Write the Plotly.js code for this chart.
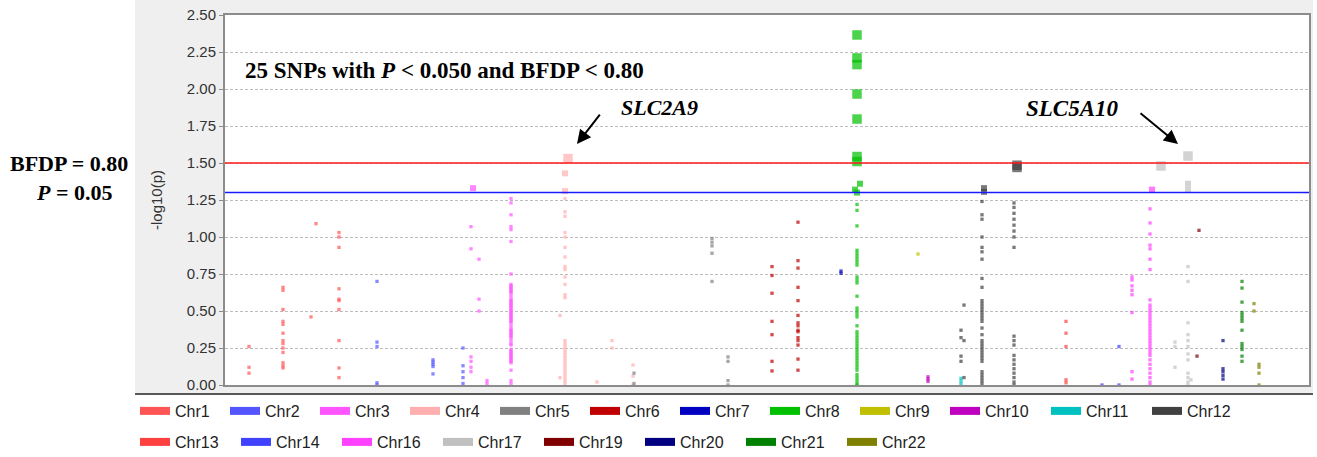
<!DOCTYPE html>
<html>
<head>
<meta charset="utf-8">
<script src="https://cdn.plot.ly/plotly-3.0.1.min.js"></script>
<style>html,body{margin:0;padding:0;background:#fff;}</style>
</head>
<body>
<div id="chart" style="width:1317px;height:457px;"></div>
<script>
// ---------- data ----------
const chromosomes = ['Chr1','Chr2','Chr3','Chr4','Chr5','Chr6','Chr7','Chr8','Chr9','Chr10','Chr11','Chr12',
                     'Chr13','Chr14','Chr16','Chr17','Chr19','Chr20','Chr21','Chr22'];
const chrColors = ['#ff5555','#5555ff','#ff55ff','#ffafaf','#808080','#c00000','#0000c0','#00c000','#c0c000','#c000c0','#00c0c0','#404040',
                   '#ff4040','#4040ff','#ff40ff','#c0c0c0','#800000','#000080','#008000','#808000'];

// genome position index of each SNP column, and -log10(p) values of the SNPs in that column
const chr1Pos = [24, 58, 86, 91, 114];
const chr1Val = [[0.26,0.12,0.08],
  [0.66,0.64,0.51,0.43,0.41,0.35,0.30,0.28,0.25,0.22,0.15,0.13,0.115],
  [0.46],[1.09],
  [1.03,1.00,0.93,0.65,0.58,0.57,0.51,0.30,0.115,0.05]];
const chr2Pos = [152, 208, 238];
const chr2Val = [[0.70,0.29,0.26,0.015,0.0],[0.17,0.155,0.14,0.125,0.075],[0.25,0.13,0.09,0.05,0.01]];
const chr3Pos = [246, 248, 254, 262, 286];
const chr3Val = [[1.07,0.92,0.19,0.16,0.12,0.09],[1.33],[0.85,0.58,0.50],[0.03,0.01],
  [1.26,1.23,1.15,1.07,1.05,0.97,0.75,0.68,0.67,0.66,0.65,0.64,0.63,0.62,0.60,0.58,0.57,0.56,0.55,0.54,0.53,0.52,
   0.51,0.50,0.49,0.48,0.47,0.46,0.45,0.44,0.43,0.42,0.40,0.38,0.37,0.36,0.35,0.34,0.33,0.32,0.30,0.28,0.27,
   0.24,0.23,0.22,0.21,0.20,0.19,0.18,0.17,0.16,0.15,0.10,0.03,0.01]];
const chr4Pos = [335, 340, 343, 372, 387, 408];
const chr4Val = [[0.47,0.05],
  [1.43,1.31,1.26,1.17,1.14,1.03,1.00,0.93,0.865,0.80,0.78,0.73,0.68,0.61,0.59,0.30,0.28,0.26,0.24,0.22,0.20,
   0.18,0.16,0.14,0.12,0.10,0.08,0.06,0.04,0.02,0.0],
  [1.53],[0.02],[0.30,0.25],[0.135,0.06,0.0]];
const chr5Pos = [409, 487, 503];
const chr5Val = [[0.08,0.01],[0.99,0.965,0.94,0.89,0.70],[0.19,0.16,0.03,0.0]];
const chr6Pos = [547, 573];
const chr6Val = [[0.80,0.74,0.62,0.43,0.34,0.16,0.095],
  [1.10,0.84,0.79,0.66,0.57,0.47,0.42,0.40,0.37,0.36,0.32,0.30,0.27,0.175,0.10]];
const chr7Pos = [616];
const chr7Val = [[0.77,0.755]];
const chr8Pos = [630, 632, 635];
const chr8Val = [[1.32],
  [2.365,2.21,2.165,1.966,1.797,1.544,1.51,1.30,1.22,1.18,1.075,0.91,0.89,0.87,0.85,0.83,0.81,0.73,0.71,0.69,0.60,
   0.52,0.50,0.48,0.46,0.40,0.36,0.34,0.32,0.30,0.28,0.26,0.24,0.22,0.20,0.18,0.16,0.14,0.12,0.10,0.07,0.05,0.03,0.01,0.0],
  [1.36]];
const chr9Pos = [693];
const chr9Val = [[0.885]];
const chr10Pos = [703];
const chr10Val = [[0.055,0.04,0.025]];
const chr11Pos = [736];
const chr11Val = [[0.045,0.025,0.005]];
const chr12Pos = [736, 739, 757, 759, 789, 792];
const chr12Val = [[0.37,0.32,0.195,0.16],[0.54,0.30,0.05],
  [1.24,1.15,1.12,1.00,0.93,0.90,0.85,0.72,0.66,0.57,0.55,0.53,0.51,0.49,0.47,0.45,0.43,0.385,0.34,0.30,0.28,0.26,
   0.24,0.22,0.20,0.18,0.16,0.09,0.07,0.05,0.03,0.01],
  [1.33,1.305],
  [1.23,1.20,1.16,1.12,1.08,1.04,1.00,0.93,0.33,0.30,0.27,0.20,0.17,0.14,0.11,0.08,0.05,0.02,0.0],
  [1.485,1.47]];
const chr13Pos = [841];
const chr13Val = [[0.43,0.35,0.26,0.035,0.015]];
const chr14Pos = [877, 894];
const chr14Val = [[0.0],[0.26,0.0]];
const chr16Pos = [907, 925, 927];
const chr16Val = [[0.73,0.71,0.67,0.64,0.61,0.49,0.09,0.04],
  [1.19,1.095,1.02,0.945,0.92,0.85,0.78,0.575,0.54,0.52,0.50,0.48,0.46,0.44,0.42,0.40,0.38,0.36,0.34,0.32,0.30,
   0.28,0.26,0.24,0.22,0.20,0.17,0.14,0.11,0.08,0.05,0.02,0.0],
  [1.32]];
const chr17Pos = [936, 950, 963, 966];
const chr17Val = [[1.48],[0.29,0.26,0.12],
  [1.547,1.36,1.32,0.80,0.70,0.42,0.34,0.30,0.26,0.21,0.17,0.08,0.05,0.02,0.0],[0.035]];
const chr19Pos = [972, 974];
const chr19Val = [[0.195],[1.045]];
const chr20Pos = [998];
const chr20Val = [[0.30,0.11,0.09,0.065,0.04]];
const chr21Pos = [1017];
const chr21Val = [[0.70,0.655,0.56,0.49,0.47,0.45,0.43,0.37,0.28,0.26,0.24,0.195,0.16]];
const chr22Pos = [1029, 1034];
const chr22Val = [[0.55,0.50],[0.14,0.12,0.08,0.0]];

const yTickValues = [0,0.25,0.5,0.75,1,1.25,1.5,1.75,2,2.25,2.5];
const pThreshold = -Math.log10(0.05);   // P = 0.05
const bfdpThreshold = 1.50;              // BFDP = 0.80 line
const genomeLength = 1084;

const posSeries = [chr1Pos,chr2Pos,chr3Pos,chr4Pos,chr5Pos,chr6Pos,chr7Pos,chr8Pos,chr9Pos,chr10Pos,chr11Pos,chr12Pos,
                   chr13Pos,chr14Pos,chr16Pos,chr17Pos,chr19Pos,chr20Pos,chr21Pos,chr22Pos];
const valSeries = [chr1Val,chr2Val,chr3Val,chr4Val,chr5Val,chr6Val,chr7Val,chr8Val,chr9Val,chr10Val,chr11Val,chr12Val,
                   chr13Val,chr14Val,chr16Val,chr17Val,chr19Val,chr20Val,chr21Val,chr22Val];

// ---------- traces ----------
const traces = [];
chromosomes.forEach((name, i) => {
  const xs = [], ys = [];
  posSeries[i].forEach((p, j) => valSeries[i][j].forEach(v => { xs.push(p); ys.push(v); }));
  const sizes = ys.map(v => v >= 1.45 ? 9.5 : (v >= 1.30 ? 6 : 3.3));
  traces.push({
    type: 'scatter', mode: 'markers', x: xs, y: ys, name: name, showlegend: false, cliponaxis: false,
    marker: {symbol: 'square', size: sizes, color: chrColors[i], line: {width: 0}},
    hovertemplate: name + '<br>-log10(p) = %{y:.2f}<extra></extra>'
  });
});
chromosomes.forEach((name, i) => {
  traces.push({
    type: 'scatter', mode: 'lines', x: [null], y: [null], name: name,
    legend: i < 12 ? 'legend' : 'legend2',
    legendwidth: name.length > 4 ? 56 : 45,
    line: {color: chrColors[i], width: 8}, hoverinfo: 'skip'
  });
});

// ---------- layout helpers (pixel -> paper) ----------
const L = 225, T = 15, W = 1084, H = 370;
const px = v => (v - L) / W;
const py = v => (T + H - v) / H;

const serif = 'Liberation Serif, Times New Roman, serif';
const sans = 'Liberation Sans, Arial, sans-serif';
const legendCommon = {orientation: 'h', xref: 'paper', yref: 'paper', x: px(135), xanchor: 'left', yanchor: 'middle',
  font: {family: sans, size: 16, color: '#222'}, bgcolor: 'rgba(0,0,0,0)', itemwidth: 30, borderwidth: 0};

const layout = {
  width: 1317, height: 457,
  margin: {l: L, r: 1317 - L - W, t: T, b: 457 - T - H, autoexpand: false},
  paper_bgcolor: '#ffffff', plot_bgcolor: '#ffffff',
  showlegend: true,
  legend: Object.assign({}, legendCommon, {y: py(411)}),
  legend2: Object.assign({}, legendCommon, {y: py(442)}),
  xaxis: {range: [0, genomeLength], showticklabels: false, ticks: '', showgrid: false, zeroline: false,
          showline: true, mirror: true, linecolor: '#8c8c8c', linewidth: 2, fixedrange: true},
  yaxis: {range: [0, 2.5], tickvals: yTickValues, tickformat: '.2f', ticks: 'outside', ticklen: 4, tickcolor: '#8c8c8c',
          showgrid: true, gridcolor: '#bdbdbd', griddash: '3px,2px', gridwidth: 1, zeroline: false,
          showline: true, mirror: true, linecolor: '#8c8c8c', linewidth: 2, automargin: false,
          tickfont: {family: sans, size: 15, color: '#333'},
          title: {text: '-log10(p)', standoff: 21, font: {family: sans, size: 15, color: '#333'}}, fixedrange: true},
  shapes: [
    {type: 'rect', xref: 'paper', yref: 'paper', x0: px(135), x1: px(1313), y0: py(393), y1: py(0),
     fillcolor: '#efefef', line: {width: 0}, layer: 'below'},
    {type: 'rect', xref: 'paper', yref: 'paper', x0: 0, x1: 1, y0: 0, y1: 1,
     fillcolor: '#ffffff', line: {width: 0}, layer: 'below'},
    {type: 'line', xref: 'paper', yref: 'paper', x0: px(135), x1: px(1313), y0: py(394), y1: py(394),
     line: {color: '#222', width: 1.5}, layer: 'below'},
    {type: 'line', xref: 'paper', yref: 'y', x0: 0, x1: 1, y0: bfdpThreshold, y1: bfdpThreshold,
     line: {color: '#ff1a1a', width: 1.5}, layer: 'above'},
    {type: 'line', xref: 'paper', yref: 'y', x0: 0, x1: 1, y0: pThreshold, y1: pThreshold,
     line: {color: '#1a1aff', width: 1.5}, layer: 'above'}
  ],
  annotations: [
    {xref: 'x', yref: 'y', x: 219.5, y: 2.128, xanchor: 'center', yanchor: 'middle', showarrow: false,
     text: '<b>25 SNPs with <i>P</i> &lt; 0.050 and BFDP &lt; 0.80</b>', font: {family: serif, size: 23, color: '#000'}},
    {xref: 'x', yref: 'y', x: 434.5, y: 1.878, xanchor: 'center', yanchor: 'middle', showarrow: false,
     text: '<b><i>SLC2A9</i></b>', font: {family: serif, size: 22, color: '#000'}},
    {xref: 'x', yref: 'y', x: 847, y: 1.865, xanchor: 'center', yanchor: 'middle', showarrow: false,
     text: '<b><i>SLC5A10</i></b>', font: {family: serif, size: 23, color: '#000'}},
    {xref: 'x', yref: 'y', x: 352, y: 1.628, ax: 24, ay: -31, text: '', showarrow: true,
     arrowhead: 2, arrowsize: 1.4, arrowwidth: 2, arrowcolor: '#000', standoff: 0},
    {xref: 'x', yref: 'y', x: 953, y: 1.628, ax: -39, ay: -32, text: '', showarrow: true,
     arrowhead: 2, arrowsize: 1.4, arrowwidth: 2, arrowcolor: '#000', standoff: 0},
    {xref: 'paper', yref: 'paper', x: px(69), y: py(163), xanchor: 'center', yanchor: 'middle', showarrow: false,
     text: '<b>BFDP = 0.80</b>', font: {family: serif, size: 22, color: '#000'}},
    {xref: 'paper', yref: 'paper', x: px(74.5), y: py(192), xanchor: 'center', yanchor: 'middle', showarrow: false,
     text: '<b><i>P</i> = 0.05</b>', font: {family: serif, size: 22, color: '#000'}}
  ]
};

Plotly.newPlot('chart', traces, layout, {displayModeBar: false, responsive: false});
</script>
</body>
</html>
